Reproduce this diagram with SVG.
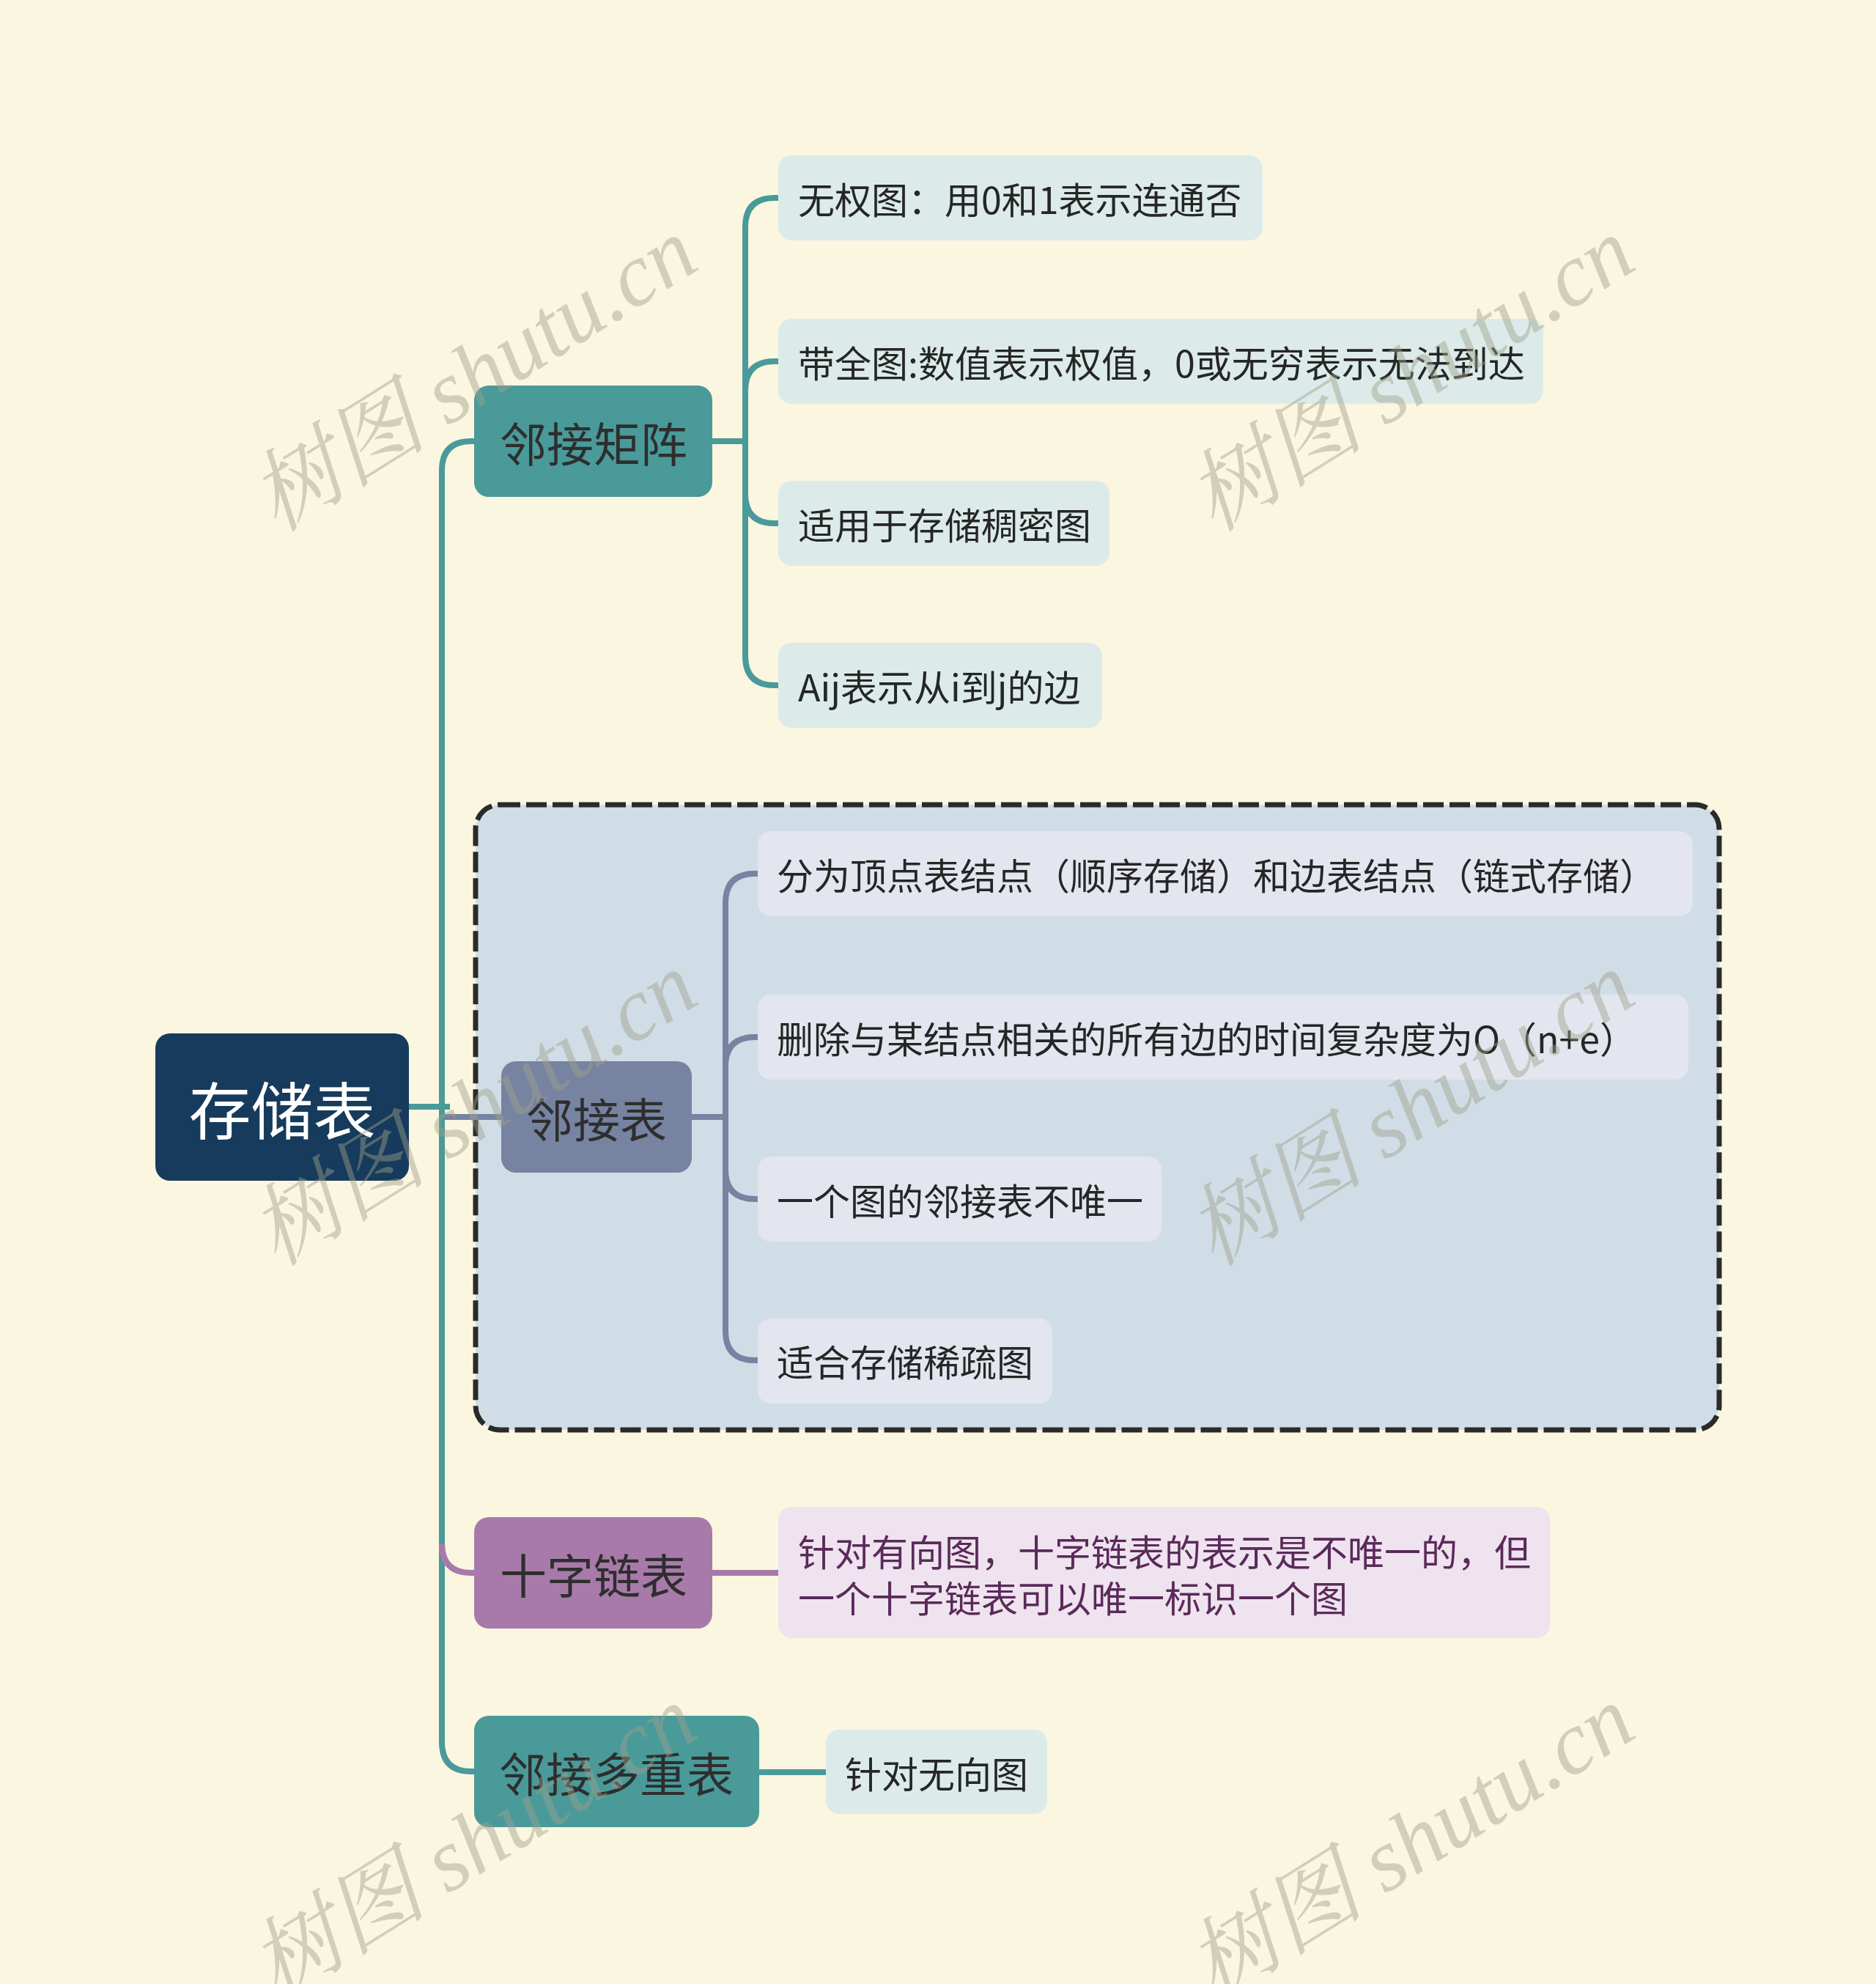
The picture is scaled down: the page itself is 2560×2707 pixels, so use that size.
<svg xmlns="http://www.w3.org/2000/svg" width="2560" height="2707" viewBox="0 0 2560 2707">
<style>
.t{font-family:"Noto Sans CJK SC","Noto Sans",sans-serif;dominant-baseline:central}
.leaf{font-size:50px;fill:#262626}
.l1{font-size:64px;fill:#2e2e2e;text-anchor:middle}
.c{fill:none;stroke-width:8;stroke-linecap:butt}
.teal{stroke:#4a9a9a}
.slate{stroke:#7683a1}
.purp{stroke:#a87aaa}
.wm{font-family:"Liberation Serif","Noto Serif CJK SC","Noto Sans CJK SC",serif;font-style:italic;font-size:122px;fill:#a0a08c;opacity:0.45;text-anchor:middle;dominant-baseline:central}
</style>
<rect width="2560" height="2707" fill="#faf6e0"/>
<g id="boundary">
<rect x="649" y="1098" width="1697" height="853" rx="33" fill="#d0dde6" stroke="#2a2a2a" stroke-width="7" stroke-dasharray="28 8"/>
</g>
<g id="connectors">
<path class="c teal" d="M558 1510 H614"/>
<path class="c slate" d="M603 1524 H684"/>
<path class="c teal" d="M603 1510 V642 Q603 602 643 602 H647"/>
<path class="c teal" d="M603 1510 V2377 Q603 2417 643 2417 H647"/>
<path class="c purp" d="M603 2106 Q603 2146 643 2146 H647"/>
<path class="c teal" d="M972 602 H1017 V310 Q1017 270 1057 270 H1062"/>
<path class="c teal" d="M1017 602 V533 Q1017 493 1057 493 H1062"/>
<path class="c teal" d="M1017 602 V674 Q1017 714 1057 714 H1062"/>
<path class="c teal" d="M1017 602 V895 Q1017 935 1057 935 H1062"/>
<path class="c slate" d="M944 1524 H990 V1232 Q990 1192 1030 1192 H1034"/>
<path class="c slate" d="M990 1524 V1455 Q990 1415 1030 1415 H1034"/>
<path class="c slate" d="M990 1524 V1596 Q990 1636 1030 1636 H1034"/>
<path class="c slate" d="M990 1524 V1816 Q990 1856 1030 1856 H1034"/>
<path class="c purp" d="M972 2146 H1062"/>
<path class="c teal" d="M1036 2418 H1127"/>
</g>
<g id="root">
<rect x="212" y="1410" width="346" height="201" rx="20" fill="#163b5c"/>
<text class="t" x="385" y="1510" font-size="85" fill="#ffffff" text-anchor="middle">存储表</text>
</g>
<g id="n-matrix">
<rect x="647" y="526" width="325" height="152" rx="20" fill="#4a9a9a"/>
<text class="t l1" x="810" y="602">邻接矩阵</text>
</g>
<g id="n-list">
<rect x="684" y="1448" width="260" height="152" rx="20" fill="#7683a1"/>
<text class="t l1" x="814" y="1524">邻接表</text>
</g>
<g id="n-cross">
<rect x="647" y="2070" width="325" height="152" rx="20" fill="#a87aaa"/>
<text class="t l1" x="810" y="2146">十字链表</text>
</g>
<g id="n-multi">
<rect x="647" y="2341" width="389" height="152" rx="20" fill="#4a9a9a"/>
<text class="t l1" x="841" y="2417">邻接多重表</text>
</g>
<g id="m1">
<rect x="1062" y="212" width="661" height="116" rx="18" fill="#dcebe9"/>
<text class="t leaf" x="1089" y="270">无权图：用0和1表示连通否</text>
</g>
<g id="m2">
<rect x="1062" y="435" width="1044" height="116" rx="18" fill="#dcebe9"/>
<text class="t leaf" x="1089" y="493">带全图:数值表示权值，0或无穷表示无法到达</text>
</g>
<g id="m3">
<rect x="1062" y="656" width="452" height="116" rx="18" fill="#dcebe9"/>
<text class="t leaf" x="1089" y="714">适用于存储稠密图</text>
</g>
<g id="m4">
<rect x="1062" y="877" width="442" height="116" rx="18" fill="#dcebe9"/>
<text class="t leaf" x="1089" y="935">Aij表示从i到j的边</text>
</g>
<g id="a1">
<rect x="1034" y="1134" width="1276" height="116" rx="18" fill="#e3e6ee"/>
<text class="t leaf" x="1060" y="1192">分为顶点表结点（顺序存储）和边表结点（链式存储）</text>
</g>
<g id="a2">
<rect x="1034" y="1357" width="1270" height="116" rx="18" fill="#e3e6ee"/>
<text class="t leaf" x="1060" y="1415">删除与某结点相关的所有边的时间复杂度为O（n+e）</text>
</g>
<g id="a3">
<rect x="1034" y="1578" width="551" height="116" rx="18" fill="#e3e6ee"/>
<text class="t leaf" x="1060" y="1636">一个图的邻接表不唯一</text>
</g>
<g id="a4">
<rect x="1034" y="1799" width="402" height="116" rx="18" fill="#e3e6ee"/>
<text class="t leaf" x="1060" y="1856">适合存储稀疏图</text>
</g>
<g id="c1">
<rect x="1062" y="2056" width="1053" height="179" rx="18" fill="#eee3ee"/>
<text class="t leaf" x="1089" y="2115" style="fill:#5a2a5a">针对有向图，十字链表的表示是不唯一的，但</text>
<text class="t leaf" x="1089" y="2178" style="fill:#5a2a5a">一个十字链表可以唯一标识一个图</text>
</g>
<g id="d1">
<rect x="1127" y="2360" width="302" height="115" rx="18" fill="#dcebe9"/>
<text class="t leaf" x="1153" y="2418">针对无向图</text>
</g>
<g id="watermark">
<text class="wm" transform="translate(646 511) rotate(-32)">树图 shutu.cn</text>
<text class="wm" transform="translate(1925 511) rotate(-32)">树图 shutu.cn</text>
<text class="wm" transform="translate(646 1513) rotate(-32)">树图 shutu.cn</text>
<text class="wm" transform="translate(1925 1513) rotate(-32)">树图 shutu.cn</text>
<text class="wm" transform="translate(646 2514) rotate(-32)">树图 shutu.cn</text>
<text class="wm" transform="translate(1925 2514) rotate(-32)">树图 shutu.cn</text>
</g>
</svg>
